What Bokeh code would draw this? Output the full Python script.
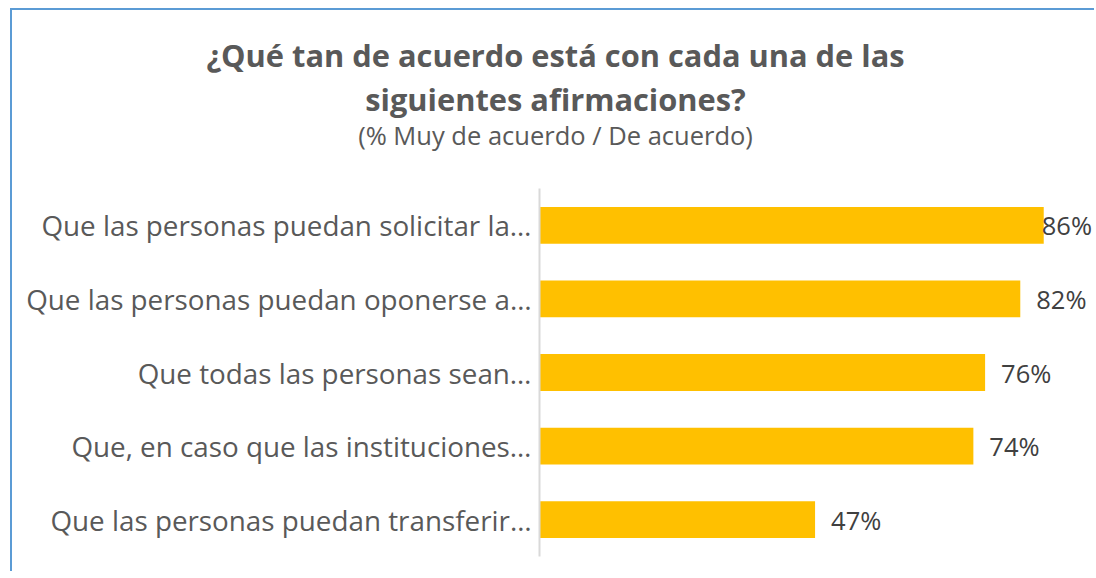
from bokeh.plotting import figure
from bokeh.models import ColumnDataSource, LabelSet, Range1d
from bokeh.core.properties import value
from bokeh.embed import file_html
from bokeh.resources import INLINE

title_line1 = "¿Qué tan de acuerdo está con cada una de las"
title_line2 = "siguientes afirmaciones?"
subtitle_text = "(% Muy de acuerdo / De acuerdo)"

categories = [
    "Que las personas puedan solicitar la…",
    "Que las personas puedan oponerse a…",
    "Que todas las personas sean…",
    "Que, en caso que las instituciones…",
    "Que las personas puedan transferir…",
]
values = [86, 82, 76, 74, 47]
value_labels = ["86%", "82%", "76%", "74%", "47%"]

FONT = "Open Sans"
TEXT = "#595959"
BORDER = "2px solid #5B9BD5"
W = 1084

# ---- title block (separate root so its frame spans the full width) ----
tf = figure(width=W, height=180, x_range=Range1d(0, W), y_range=Range1d(180, 0),
            output_backend="svg", toolbar_location=None,
            min_border=0, min_border_left=0, min_border_right=0,
            min_border_top=0, min_border_bottom=0)
tf.axis.visible = False
tf.grid.visible = False
tf.outline_line_color = None
tsrc = ColumnDataSource(dict(
    t=[title_line1, title_line2, subtitle_text],
    x=[543, 543, 543],
    y=[44, 88, 124],
    size=["30.8px", "30.8px", "25.5px"],
    style=["bold", "bold", "normal"],
))
tf.text(x="x", y="y", text="t", source=tsrc, text_align="center",
        text_baseline="alphabetic", text_font=value(FONT),
        text_font_size="size", text_font_style="style", text_color=TEXT)
tf.styles = {"border-left": BORDER, "border-top": BORDER,
             "margin-left": "10px", "margin-top": "8px"}

# ---- bar chart ----
offsets = [-2 if v > 84 else 16 for v in values]
src = ColumnDataSource(dict(cat=categories, val=values, lab=value_labels, off=offsets))

p = figure(width=W, height=383, y_range=categories[::-1], x_range=Range1d(0, 95),
           output_backend="svg", toolbar_location=None,
           min_border_left=527, min_border_right=0, min_border_bottom=15, min_border_top=0)

p.hbar(y="cat", right="val", left=0, height=0.5, source=src, color="#FFC000", line_color=None)

labels = LabelSet(x="val", y="cat", text="lab", x_offset="off", source=src,
                  text_font=value(FONT), text_font_size="25.5px", text_color="#404040",
                  text_baseline="middle", text_align="left")
p.add_layout(labels)

p.xaxis.visible = False
p.xgrid.visible = False
p.ygrid.visible = False
p.outline_line_color = None
p.yaxis.axis_line_color = "#D9D9D9"
p.yaxis.axis_line_width = 2
p.yaxis.major_tick_line_color = None
p.yaxis.minor_tick_line_color = None
p.yaxis.major_label_standoff = 2
p.yaxis.major_label_text_font = FONT
p.yaxis.major_label_text_font_size = "27.8px"
p.yaxis.major_label_text_color = TEXT
p.styles = {"border-left": BORDER, "margin-left": "10px"}

open("out.html", "w").write(file_html([tf, p], INLINE))
